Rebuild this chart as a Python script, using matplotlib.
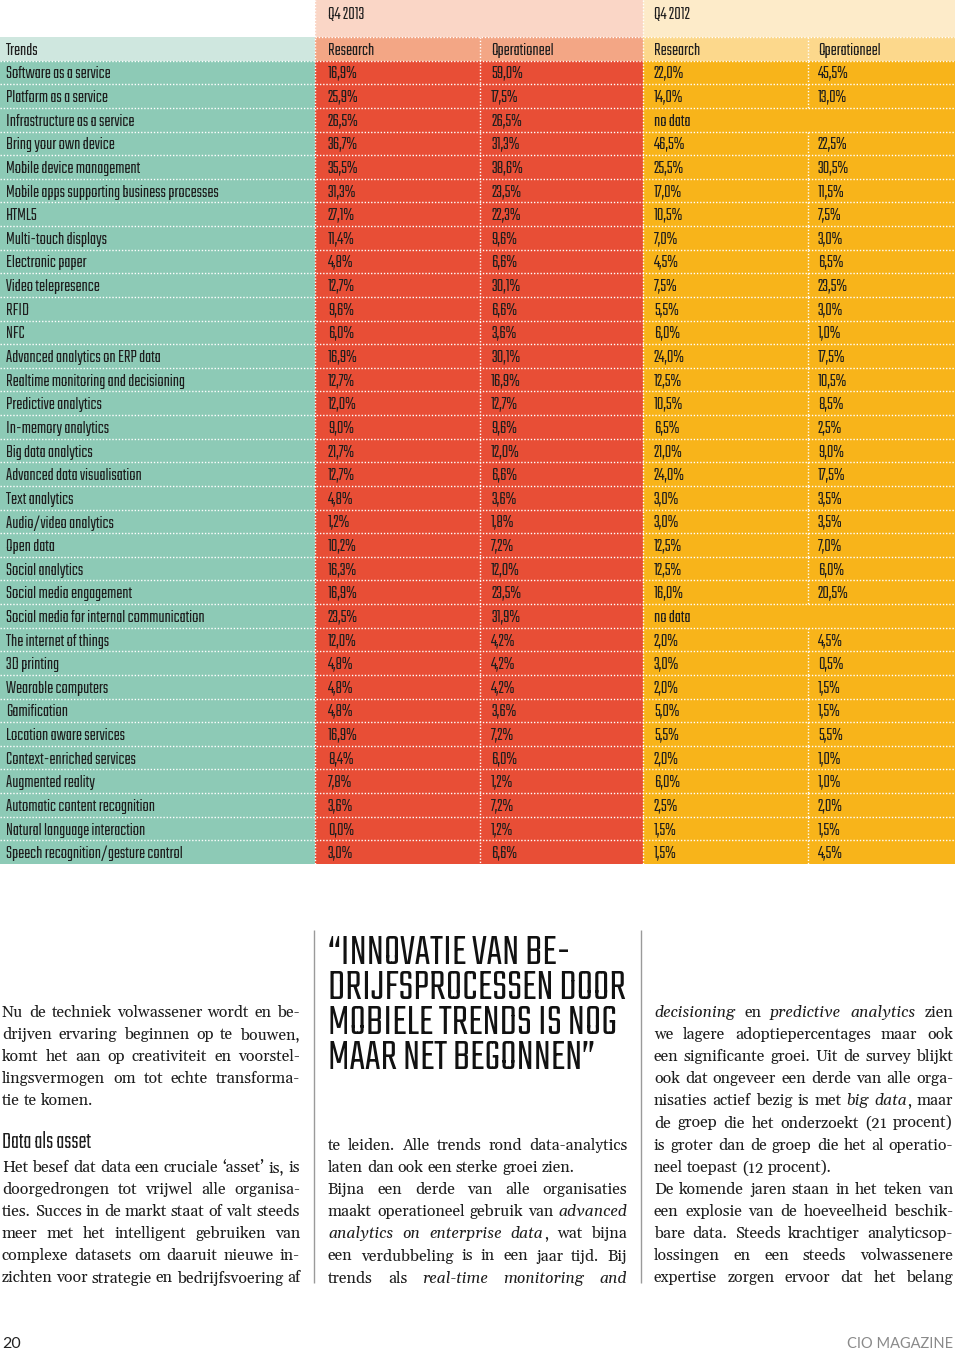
import matplotlib
matplotlib.use('Agg')
import matplotlib.pyplot as plt
from matplotlib import font_manager as fm
import numpy as np

# ---- table data ----
trends = [
    'Software as a service', 'Platform as a service', 'Infrastructure as a service',
    'Bring your own device', 'Mobile device management',
    'Mobile apps supporting business processes', 'HTML5', 'Multi-touch displays',
    'Electronic paper', 'Video telepresence', 'RFID', 'NFC',
    'Advanced analytics on ERP data', 'Realtime monitoring and decisioning',
    'Predictive analytics', 'In-memory analytics', 'Big data analytics',
    'Advanced data visualisation', 'Text analytics', 'Audio/video analytics',
    'Open data', 'Social analytics', 'Social media engagement',
    'Social media for internal communication', 'The internet of things',
    '3D printing', 'Wearable computers', 'Gamification', 'Location aware services',
    'Context-enriched services', 'Augmented reality', 'Automatic content recognition',
    'Natural language interaction', 'Speech recognition/gesture control',
]
research_2013 = [16.9, 25.9, 26.5, 36.7, 35.5, 31.3, 27.1, 11.4, 4.8, 12.7, 9.6, 6.0,
                 16.9, 12.7, 12.0, 9.0, 21.7, 12.7, 4.8, 1.2, 10.2, 16.3, 16.9, 23.5,
                 12.0, 4.8, 4.8, 4.8, 16.9, 8.4, 7.8, 3.6, 0.0, 3.0]
oper_2013 = [59.0, 17.5, 26.5, 31.3, 38.6, 23.5, 22.3, 9.6, 6.6, 30.1, 6.6, 3.6,
             30.1, 16.9, 12.7, 9.6, 12.0, 6.6, 3.6, 1.8, 7.2, 12.0, 23.5, 31.9,
             4.2, 4.2, 4.2, 3.6, 7.2, 6.0, 1.2, 7.2, 1.2, 6.6]
research_2012 = [22.0, 14.0, None, 46.5, 25.5, 17.0, 10.5, 7.0, 4.5, 7.5, 5.5, 6.0,
                 24.0, 12.5, 10.5, 6.5, 21.0, 24.0, 3.0, 3.0, 12.5, 12.5, 16.0, None,
                 2.0, 3.0, 2.0, 5.0, 5.5, 2.0, 6.0, 2.5, 1.5, 1.5]
oper_2012 = [45.5, 13.0, None, 22.5, 30.5, 11.5, 7.5, 3.0, 6.5, 23.5, 3.0, 1.0,
             17.5, 10.5, 8.5, 2.5, 9.0, 17.5, 3.5, 3.5, 7.0, 6.0, 20.5, None,
             4.5, 0.5, 1.5, 1.5, 5.5, 1.0, 1.0, 2.0, 1.5, 4.5]
groups = ['Q4 2013', 'Q4 2012']
col_heads = ['Research', 'Operationeel', 'Research', 'Operationeel']

# ---- article text ----
quote_lines = ['\u201cINNOVATIE VAN BE-', 'DRIJFSPROCESSEN DOOR',
               'MOBIELE TRENDS IS NOG', 'MAAR NET BEGONNEN\u201d']
col1_par1 = ['Nu de techniek volwassener wordt en be-',
             'drijven ervaring beginnen op te bouwen,',
             'komt het aan op creativiteit en voorstel-',
             'lingsvermogen om tot echte transforma-',
             'tie te komen.']
col1_head = 'Data als asset'
col1_par2 = ['Het besef dat data een cruciale \u2018asset\u2019 is, is',
             'doorgedrongen tot vrijwel alle organisa-',
             'ties. Succes in de markt staat of valt steeds',
             'meer met het intelligent gebruiken van',
             'complexe datasets om daaruit nieuwe in-',
             'zichten voor strategie en bedrijfsvoering af']
col2_lines = ['te leiden. Alle trends rond data-analytics',
              'laten dan ook een sterke groei zien.',
              'Bijna een derde van alle organisaties',
              'maakt operationeel gebruik van *advanced*',
              '*analytics on enterprise data*, wat bijna',
              'een verdubbeling is in een jaar tijd. Bij',
              'trends als *real-time monitoring and*']
col2_last = [1]
col3_lines = ['*decisioning* en *predictive analytics* zien',
              'we lagere adoptiepercentages maar ook',
              'een significante groei. Uit de survey blijkt',
              'ook dat ongeveer een derde van alle orga-',
              'nisaties actief bezig is met *big data*, maar',
              'de groep die het onderzoekt (21 procent)',
              'is groter dan de groep die het al operatio-',
              'neel toepast (12 procent).',
              'De komende jaren staan in het teken van',
              'een explosie van de hoeveelheid beschik-',
              'bare data. Steeds krachtiger analyticsop-',
              'lossingen en een steeds volwassenere',
              'expertise zorgen ervoor dat het belang']
col3_last = [7]

# colours
TEAL, TEAL_HEAD = '#8dcab6', '#cfe7df'
RED, RED_HEAD, RED_TOP = '#e84e36', '#f3a685', '#fad6c6'
ORA, ORA_HEAD, ORA_TOP = '#f8b41a', '#fcd88c', '#fdebc9'
INK = '#1e1e1e'

avail = {f.name for f in fm.fontManager.ttflist}


def pick(cands, default):
    return next((c for c in cands if c in avail), default)


COND = pick(['Teko', 'Pathway Gothic One', 'Roboto Condensed'], 'DejaVu Sans')
SERIF = pick(['Gelasio', 'Liberation Serif'], 'DejaVu Serif')
SANS = pick(['Lato', 'DejaVu Sans'], 'DejaVu Sans')

W, H = 960, 1351
fig = plt.figure(figsize=(W / 100, H / 100), dpi=100)
page = fig.add_axes([0, 0, 1, 1])
page.set_xlim(0, W)
page.set_ylim(H, 0)
page.axis('off')
renderer = fig.canvas.get_renderer()


def text_width(s, **kw):
    t = page.text(0, 0, s, **kw)
    w = t.get_window_extent(renderer).width
    t.remove()
    return w


def fit_size(s, target, family, base=20, **kw):
    return base * target / text_width(s, fontsize=base, family=family, **kw)


# ---- table ----
TAB_BOTTOM = 864
hdr1 = 37 / ((TAB_BOTTOM - 37) / 35)
n = len(trends)
rows = np.arange(n) + 0.5
edges = [0, 315, 480, 643, 808, 955]

tab = fig.add_axes([0, 1 - TAB_BOTTOM / H, edges[-1] / W, TAB_BOTTOM / H])
tab.set_xlim(0, edges[-1])
tab.set_ylim(n, -1 - hdr1)
tab.axis('off')

tab.barh(rows, edges[1], left=0, height=1, color=TEAL)
tab.barh(-0.5, edges[1], left=0, height=1, color=TEAL_HEAD)
for g, (c, ch, ct) in enumerate([(RED, RED_HEAD, RED_TOP), (ORA, ORA_HEAD, ORA_TOP)]):
    x0, x1 = edges[1 + 2 * g], edges[3 + 2 * g]
    tab.barh(rows, x1 - x0, left=x0, height=1, color=c)
    tab.barh(-0.5, x1 - x0, left=x0, height=1, color=ch)
    tab.barh(-1 - hdr1 / 2, x1 - x0, left=x0, height=hdr1, color=ct)

dots = (0, (1, 1.3))
tab.hlines(np.arange(0, n), 0, edges[-1], colors='white', linestyles=dots, lw=1)
tab.hlines(-1, edges[1], edges[-1], colors='white', linestyles=dots, lw=1)
tab.vlines([edges[1], edges[3]], -1 - hdr1, n, colors='white', linestyles=dots, lw=1)
tab.vlines(edges[2], -1, n, colors='white', linestyles=dots, lw=1)
for i in range(-1, n):
    if i < 0 or research_2012[i] is not None:
        tab.vlines(edges[4], i, i + 1, colors='white', linestyles=dots, lw=1)

fs_tab = min(15, fit_size('Mobile apps supporting business processes', 212, COND,
                          weight='medium'))
tkw = dict(fontsize=fs_tab, family=COND, weight='medium', color=INK, va='center_baseline')


def fmt(v):
    return ('%.1f' % v).replace('.', ',') + '%'


tx = [6, 328, 491, 654, 818]
tab.text(tx[0], -0.5, 'Trends', **tkw)
for k, h in enumerate(col_heads):
    tab.text(tx[k + 1], -0.5, h, **tkw)
for g, name in enumerate(groups):
    tab.text(tx[1 + 2 * g], -1 - hdr1 + 13 / 23.6, name, **tkw)
for i in range(n):
    y = rows[i]
    tab.text(tx[0], y, trends[i], **tkw)
    tab.text(tx[1], y, fmt(research_2013[i]), **tkw)
    tab.text(tx[2], y, fmt(oper_2013[i]), **tkw)
    if research_2012[i] is None:
        tab.text(tx[3], y, 'no data', **tkw)
    else:
        tab.text(tx[3], y, fmt(research_2012[i]), **tkw)
        tab.text(tx[4], y, fmt(oper_2012[i]), **tkw)

# ---- article ----
page.vlines([314, 641], 930, 1283, colors='#9a9a9a', lw=1)

fs_q = fit_size(quote_lines[1], 297, COND, weight='medium')
for k, line in enumerate(quote_lines):
    page.text(328, 964 + 35 * k, line, fontsize=fs_q, family=COND, weight='medium',
              color='#111', va='baseline')

page.text(2, 1148, col1_head, family=COND, weight='medium', color=INK, va='baseline',
          fontsize=fit_size(col1_head, 88, COND, weight='medium'))

FS_BODY = min(13.2, fit_size(col1_par2[-1], 297, SERIF))


def parse(line):
    words, cur, it = [], [['', False]], False
    for ch in line:
        if ch == '*':
            it = not it
            cur.append(['', it])
        elif ch == ' ':
            words.append([s for s in cur if s[0]])
            cur = [['', it]]
        else:
            if cur[-1][1] != it:
                cur.append(['', it])
            cur[-1][0] += ch
    words.append([s for s in cur if s[0]])
    return [w for w in words if w]


def body_line(line, x0, x1, y, justify=True):
    words = parse(line)
    widths = [[text_width(s, fontsize=FS_BODY, family=SERIF,
                          style='italic' if it else 'normal') for s, it in w] for w in words]
    total = sum(sum(w) for w in widths)
    if justify and len(words) > 1:
        gap = max(2, (x1 - x0 - total) / (len(words) - 1))
    else:
        gap = FS_BODY * 100 / 72 * 0.25
    x = x0
    for w, ws in zip(words, widths):
        for (s, it), sw in zip(w, ws):
            page.text(x, y, s, fontsize=FS_BODY, family=SERIF, color=INK, va='baseline',
                      style='italic' if it else 'normal')
            x += sw
        x += gap


def block(lines, x0, x1, y0, last=()):
    for k, line in enumerate(lines):
        body_line(line, x0, x1, y0 + 22.1 * k, justify=k not in last)


block(col1_par1, 2, 300, 1017, last=[len(col1_par1) - 1])
block(col1_par2, 2, 300, 1172)
block(col2_lines, 328, 627, 1150, last=col2_last)
block(col3_lines, 654, 953, 1017, last=col3_last)

page.text(2, 1348, '20', fontsize=11.5, family=SANS, color='#222', va='baseline')
page.text(953, 1348, 'CIO MAGAZINE', fontsize=fit_size('CIO MAGAZINE', 106, SANS),
          family=SANS, color='#8a8a8a', ha='right', va='baseline')

fig.savefig('out.png', dpi=100)
